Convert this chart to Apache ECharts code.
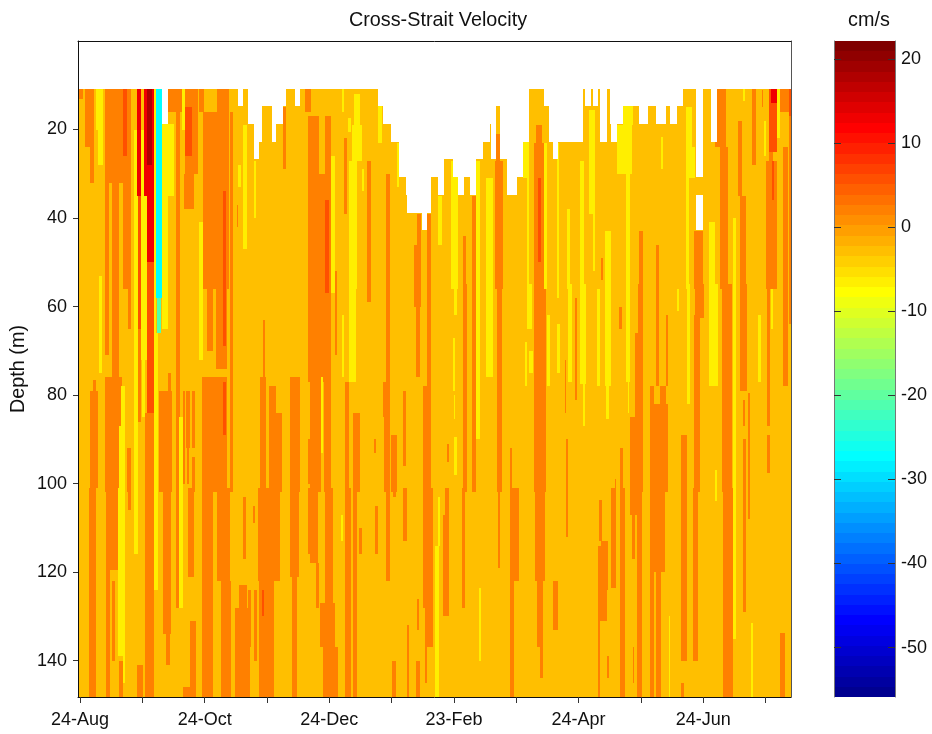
<!DOCTYPE html>
<html>
<head>
<meta charset="utf-8">
<script src="https://cdn.jsdelivr.net/npm/echarts@6/dist/echarts.min.js"></script>
<style>
  html, body { margin: 0; padding: 0; background: #fff; }
  #chart { width: 932px; height: 734px; }
</style>
</head>
<body>
<div id="chart"></div>
<script>
// x axis is days since the start of the record
const dayCount = 349
const maxDepth = 148.2
const tickDays = [1, 31.5, 62, 92.5, 123, 153.5, 184, 214.5, 245, 275.5, 306, 336.5]
const labelDays = [1, 62, 123, 184, 245, 306]
const labelTexts = ['24-Aug', '24-Oct', '24-Dec', '23-Feb', '24-Apr', '24-Jun']
const depthTicks = [20, 40, 60, 80, 100, 120, 140]
const velocityTicks = [-50, -40, -30, -20, -10, 0, 10, 20]
const velocityRange = [-55.87, 22.13]

// jet, bottom to top of the colorbar
const colorbarColors = [
  '#000090', '#0000A0', '#0000B0', '#0000C0', '#0000D0', '#0000E0', '#0000F0', '#0000FF',
  '#0010FF', '#0020FF', '#0030FF', '#0040FF', '#0050FF', '#0060FF', '#0070FF', '#0080FF',
  '#008FFF', '#009FFF', '#00AFFF', '#00BFFF', '#00CFFF', '#00DFFF', '#00EFFF', '#00FFFF',
  '#10FFEF', '#20FFDF', '#30FFCF', '#40FFBF', '#50FFAF', '#60FF9F', '#70FF8F', '#80FF80',
  '#8FFF70', '#9FFF60', '#AFFF50', '#BFFF40', '#CFFF30', '#DFFF20', '#EFFF10', '#FFFF00',
  '#FFEF00', '#FFDF00', '#FFCF00', '#FFBF00', '#FFAF00', '#FF9F00', '#FF8F00', '#FF8000',
  '#FF7000', '#FF6000', '#FF5000', '#FF4000', '#FF3000', '#FF2000', '#FF1000', '#FF0000',
  '#F00000', '#E00000', '#D00000', '#C00000', '#B00000', '#A00000', '#900000', '#800000'
]

// contour levels, cm/s. Each list below holds [day0, day1, depth0, depth1] patches of one level
const backgroundVelocity = -2.5
const levelVelocities = { cyan: -27.5, teal: -21, yellow: -6.5, orange: 2.5, redOrange: 6, red: 12.5, darkRed: 18 }

const orangePatches = [
  [0.7, 2.6, 10.75, 13], [3.5, 8, 10.75, 24], [6, 8, 24, 32], [7.5, 9, 76.5, 79], [6, 10, 79, 101], [5.5, 8.8, 101, 148.2],
  [13, 26, 10.75, 32], [13, 15, 32, 71], [16.5, 20, 32, 76], [22, 26, 32, 56], [24.6, 26, 55, 65], [13, 21.4, 76, 102],
  [13.7, 19.7, 101, 119.4], [13.7, 15.7, 119, 148.2], [16.5, 18, 122, 140], [20, 22, 140, 148.2], [24, 26, 92, 102],
  [24.6, 25.8, 101, 106], [29, 31.6, 141, 148.2], [29.5, 31, 65, 86], [33, 37, 84, 148.2],
  [44, 50.7, 10.75, 16], [48, 50, 10.75, 128], [52.3, 58.9, 10.75, 30], [52, 57, 30, 38],
  [39.8, 45.8, 79, 102], [41.4, 45.4, 101, 134], [43, 45, 134, 141], [44, 45.5, 75, 79],
  [51.2, 52.4, 79, 100], [53, 55, 79, 92], [53.2, 54.5, 90, 100], [55.6, 57.3, 79, 92], [55.6, 57.3, 94, 102],
  [54, 57, 101, 121], [54.8, 58, 131, 148.2], [51.5, 56.8, 146, 148.2],
  [59, 61.7, 10.75, 16], [68, 74, 10.75, 16], [61, 74, 16, 56], [74.4, 76, 16, 102], [63, 66, 55, 70], [67.5, 72.7, 55, 74],
  [60.5, 72.7, 76, 102], [60.5, 66, 101, 148.2], [68, 74.4, 101, 122], [70, 75, 122, 148.2],
  [77, 84, 128, 148.2], [79, 82.5, 123, 131], [80.6, 82.2, 103, 117], [85.5, 86.8, 105, 109], [83.4, 84.5, 124, 137], [86, 87.5, 124, 140],
  [78, 78.5, 37, 42], [89, 92, 76, 102], [93.5, 97, 78, 102], [97, 99.7, 84, 102], [88.3, 99, 101, 122], [88.5, 96, 122, 148.2],
  [90.4, 91.5, 63, 76], [103.8, 108.6, 76, 102], [103.8, 108, 101, 121], [104.6, 107, 121, 148.2],
  [112.4, 113.9, 90, 100], [112.4, 113.9, 101, 116], [100.5, 102, 15, 29], [111, 114, 10.75, 16],
  [112.4, 118, 17, 30], [121, 124, 17, 30], [112.4, 124, 30, 77], [113.5, 119, 76, 102], [120.4, 124, 76, 102],
  [113.5, 117.6, 101, 118], [116.5, 118, 118, 128], [121, 124.6, 101, 127], [118.5, 126, 127, 137], [120, 127.5, 137, 148.2],
  [125.8, 127, 52, 71], [130, 131.5, 22, 39], [141.6, 143.2, 27, 59], [151, 152.7, 30, 77], [149.5, 152.7, 77, 85], [150, 152.7, 85, 102], [150.7, 152.7, 101, 122],
  [164.4, 167.7, 46, 60], [165.4, 167.4, 60, 76], [165.8, 168, 39, 46],
  [170.6, 172.6, 39, 56], [170.6, 173, 55, 78], [169, 173, 78, 102], [168.7, 174, 101, 128], [170, 173.6, 127, 137], [169.8, 171, 137, 145],
  [188.6, 190, 44, 56], [188.3, 190.5, 55, 102], [187.8, 189.5, 101, 128], [192.7, 195, 35, 102],
  [204.5, 206.5, 21, 27], [204, 208, 27, 56], [205, 207.5, 55, 102], [205.4, 206.5, 101, 119],
  [211.4, 212.4, 92, 102], [211.4, 216, 101, 122], [211.4, 213.4, 122, 148.2],
  [224, 227, 19, 23], [223, 228.5, 23, 56], [223, 229, 55, 102], [223.6, 228.5, 101, 122], [224.5, 227.7, 122, 137], [226, 227.7, 137, 144],
  [159.2, 160.4, 79, 96], [144.8, 145.8, 90, 93], [130.7, 132.8, 77, 102], [134.7, 138, 84, 102], [130.7, 133.5, 101, 148.2], [134.4, 136.4, 101, 148.2],
  [153, 156, 89, 102], [154, 155.6, 101, 103], [153.5, 155.6, 140, 148.2],
  [145.3, 147, 105, 116], [137.7, 138.8, 110, 116], [159.2, 160.8, 101, 113], [160.8, 162, 132, 148.2], [165.8, 167, 126, 133], [165.5, 167.4, 140, 148.2],
  [178.5, 181.7, 107, 130], [179.6, 181.7, 101, 107], [180.4, 181.4, 91, 95], [232.6, 235, 122, 133],
  [243.2, 244.4, 58, 81], [238.3, 239, 72, 84], [238.8, 240, 90, 112], [233, 234.6, 122, 133],
  [256, 257, 49, 54], [265, 266.2, 60, 65],
  [274.7, 276.6, 43, 56], [274, 276.6, 55, 66], [272.6, 276.6, 66, 85], [270, 276.6, 85, 102], [270, 276.3, 101, 107], [273.4, 276.3, 107, 148.2],
  [271, 272.6, 107, 117], [271.5, 272, 137, 145],
  [283, 284.5, 46, 78], [280, 282, 78, 82], [285, 288, 78, 82], [279.9, 289, 82, 102], [279.9, 287.3, 101, 120], [280, 281.8, 120, 148.2], [283, 285.6, 120, 148.2],
  [287.8, 289, 62, 78],
  [301.5, 305.8, 43, 56], [302, 306.3, 55, 62.6], [301.5, 304.3, 62, 102], [301, 303.6, 101, 140],
  [295.4, 298, 89, 140], [295.4, 296.4, 145, 148.2],
  [312, 317.4, 10.75, 24], [314.2, 318.3, 24, 56], [315, 320, 55, 102], [315.5, 320.4, 101, 148.2],
  [323, 325, 18, 35], [324, 327, 35, 56], [324, 327.3, 55, 79], [325.6, 326.4, 81, 87], [325.6, 327.2, 90, 129], [328, 329, 79.5, 108],
  [329.7, 332, 10.75, 28], [334.7, 335.5, 11, 15],
  [337, 342, 27, 56], [338, 340, 18, 27], [337.4, 338.7, 55, 87], [337.4, 338.5, 89, 97.5],
  [343.5, 348, 10.75, 16], [345, 347.6, 24, 78], [348, 349, 17, 64], [343.6, 346, 133.7, 148.2],
  [255, 256.3, 103.7, 113], [256, 259.5, 113, 124], [254.7, 258.8, 114, 131], [254.3, 255.5, 131, 148.2], [259, 259.8, 139, 144],
  [261, 263.3, 101, 123.6], [265.3, 267.7, 101, 148.2], [263, 263.5, 99, 102], [265.3, 266.7, 92, 102]
]

const yellowPatches = [
  [9, 12, 10.75, 20], [10, 12, 20, 28], [10.4, 11.6, 53, 75], [21, 23, 78, 102], [20, 21, 87, 102], [19.5, 23, 101, 139], [22, 23, 139, 145],
  [27.4, 29.5, 20, 116], [31, 33.6, 20, 72], [31.5, 33, 72, 85], [37, 38, 10.75, 66], [37, 39.3, 66, 124],
  [41, 44, 18.75, 65], [44, 47, 18.75, 35], [49.6, 51.2, 85, 128], [51, 52.3, 10.75, 20], [59.4, 61, 41, 72],
  [78.5, 80, 28, 33], [81, 82.5, 19, 47], [86, 87, 27, 40], [119, 120, 76, 93],
  [129, 130, 10.75, 16], [135, 138, 12, 19], [132, 133.5, 17.5, 20.5], [134, 139, 19, 27], [132.8, 136.4, 27, 56], [132.8, 136, 55, 77], [139, 140, 29, 34],
  [124, 126, 26, 57], [129, 130.4, 62, 76], [147, 149, 13, 23], [156, 157, 23, 33],
  [176.4, 178, 35, 46], [182.4, 186, 27, 56], [184, 185.3, 55, 62], [183.4, 184.7, 67, 79], [184, 184.6, 80, 85.5], [184, 185.3, 89.5, 98],
  [195, 197, 27, 90], [199.5, 203, 31, 76], [218, 221, 22.75, 31], [219.6, 221, 31, 56], [219.6, 222, 55, 65], [218.8, 219.6, 68, 78], [221, 222.5, 70, 75],
  [228, 229.7, 23, 56], [229.8, 230.8, 62, 78], [234.6, 235.6, 23, 58], [234.5, 235.7, 64, 75],
  [174.7, 176.8, 114, 148.2], [176.3, 177, 103, 114], [128.5, 129.5, 107, 113], [196.4, 197.4, 123.6, 140],
  [250, 253, 15.5, 39], [252, 253, 39, 52], [245.7, 247.6, 27, 56], [245.7, 248.6, 55, 77.6], [247, 248, 77, 87],
  [239.5, 241, 38, 56], [240, 241.6, 55, 77], [254, 255.4, 56, 78], [258, 261, 43, 78], [258.4, 260, 78, 85.5],
  [266.6, 271.8, 14.75, 19], [263.6, 271, 19, 30], [268, 270, 30, 77], [269, 269.6, 77, 84],
  [289.4, 290, 130, 148.2], [285.6, 286.4, 21.6, 29], [293, 294, 56, 61],
  [297.6, 300.3, 15, 31], [298.5, 302, 24, 31], [297.6, 299.2, 31, 56], [298.2, 299.5, 55, 82],
  [309, 312, 41, 56], [309, 313.4, 55, 78], [311.8, 313, 97, 104],
  [320.4, 322.3, 40, 135], [329.3, 330.5, 131.5, 148.2], [325.6, 326.4, 10.75, 13.5], [336, 337, 18, 26], [333, 334.2, 62, 77],
  [339, 340.3, 56, 65], [341.8, 343.5, 10.75, 22]
]

const redOrangePatches = [
  [22, 24, 10.75, 26], [52.4, 55.6, 15, 26], [71, 72.4, 34, 69], [71, 72.4, 77, 89], [90, 91, 124, 130], [121, 123, 36, 57],
  [225, 226.4, 31, 50], [339.7, 340.7, 27, 36], [338, 342, 10.75, 25], [29.5, 31, 35, 65], [34, 37, 50, 84], [348, 349, 10.75, 17]
]
const redPatches = [[29, 31, 10.75, 35], [32.5, 37, 10.75, 35], [34, 37, 35, 50], [339, 342, 10.75, 14]]
const darkRedPatches = [[34, 36, 10.75, 28]]
const tealPatches = [[38.5, 40.5, 58, 66]]
const cyanPatches = [[38, 41, 10.75, 58]]

// no good data above topDepths[i] until day topEndDays[i]
const topEndDays = [41, 44, 78.5, 81, 83.4, 86, 88.7, 90, 94.8, 97, 100.5, 102, 106, 108.6, 147, 149.4, 153, 157.3, 160.5, 161, 168.2, 171, 172.6, 176.3, 179, 183.7, 186, 189, 192, 195, 198, 201.6, 202.4, 204.6, 206.5, 209.8, 214.7, 218, 221, 228, 230.7, 232.3, 235, 247, 248, 251, 252, 254.6, 255.5, 258.8, 260.3, 261, 263.6, 266.6, 274.7, 278.8, 283, 288, 290, 293, 296, 302.4, 306, 310, 312.6, 349]
const topDepths = [10.75, 18.75, 10.75, 14.75, 10.75, 18.75, 26.75, 22.75, 14.75, 22.75, 18.75, 14.75, 10.75, 14.75, 10.75, 14.75, 18.75, 22.75, 30.75, 34.75, 38.75, 42.75, 38.75, 30.75, 34.75, 26.75, 30.75, 34.75, 30.75, 34.75, 26.75, 22.75, 18.75, 26.75, 14.75, 26.75, 34.75, 30.75, 22.75, 10.75, 14.75, 22.75, 26.75, 22.75, 10.75, 14.75, 10.75, 14.75, 10.75, 22.75, 10.75, 18.75, 22.75, 18.75, 14.75, 18.75, 14.75, 18.75, 14.75, 18.75, 14.75, 10.75, 30.75, 10.75, 22.75, 10.75]

// missing bins below the first good one
const gapPatches = [[302.4, 306, 34.75, 42.75]]

const colorStep = (velocityRange[1] - velocityRange[0]) / colorbarColors.length

function velocityColor(v) {
  let i = Math.floor((v - velocityRange[0]) / colorStep)
  return colorbarColors[Math.max(0, Math.min(colorbarColors.length - 1, i))]
}

function withVelocity(patches, velocity) {
  return patches.map(p => [p[0], p[1], p[2], p[3], velocity])
}

// later levels paint over earlier ones
const fieldCells = [
  [0, dayCount, 0, maxDepth, backgroundVelocity],
  ...withVelocity(orangePatches, levelVelocities.orange),
  ...withVelocity(yellowPatches, levelVelocities.yellow),
  ...withVelocity(redOrangePatches, levelVelocities.redOrange),
  ...withVelocity(redPatches, levelVelocities.red),
  ...withVelocity(darkRedPatches, levelVelocities.darkRed),
  ...withVelocity(tealPatches, levelVelocities.teal),
  ...withVelocity(cyanPatches, levelVelocities.cyan)
]

const missingCells = gapPatches.map(p => [p[0], p[1], p[2], p[3], 0])
topEndDays.forEach((end, i) => {
  missingCells.push([i === 0 ? 0 : topEndDays[i - 1], end, 0, topDepths[i], 0])
})

const colorbarCells = colorbarColors.map((c, i) => [
  0, 1, velocityRange[0] + i * colorStep, velocityRange[0] + (i + 1) * colorStep, velocityRange[0] + (i + 0.5) * colorStep
])

function rectRenderer(fillFor) {
  return function (params, api) {
    const a = api.coord([api.value(0), api.value(2)])
    const b = api.coord([api.value(1), api.value(3)])
    const x = Math.round(Math.min(a[0], b[0]))
    const y = Math.round(Math.min(a[1], b[1]))
    return {
      type: 'rect',
      shape: {
        x: x,
        y: y,
        width: Math.round(Math.max(a[0], b[0])) - x,
        height: Math.round(Math.max(a[1], b[1])) - y
      },
      style: { fill: fillFor(api.value(4)) }
    }
  }
}

const labelStyle = { color: '#111', fontFamily: 'Liberation Sans, Arial', fontSize: 18 }
const titleStyle = { color: '#111', fontFamily: 'Liberation Sans, Arial', fontSize: 19.8, fontWeight: 'normal' }
const tickLine = { color: '#333', width: 1 }

let myChart = echarts.init(document.getElementById('chart'), null, { renderer: 'canvas' })

let option = {
  animation: false,
  backgroundColor: '#fff',
  title: [
    { text: 'Cross-Strait Velocity', left: 433, top: 6, textAlign: 'center', textStyle: titleStyle },
    { text: 'cm/s', left: 864, top: 6, textAlign: 'center', textStyle: titleStyle }
  ],
  grid: [
    { left: 78, top: 41, width: 713, height: 656, outerBoundsMode: 'none' },
    { left: 834, top: 41, width: 61, height: 656, outerBoundsMode: 'none' }
  ],
  xAxis: [
    {
      type: 'value', gridIndex: 0, min: 0, max: dayCount, position: 'bottom', z: 10,
      splitLine: { show: false },
      axisLine: { onZero: false, lineStyle: { color: '#111' } },
      axisTick: { length: 6, lineStyle: tickLine, customValues: tickDays },
      axisLabel: {
        ...labelStyle, margin: 14,
        customValues: labelDays,
        formatter: v => labelTexts[labelDays.indexOf(v)]
      }
    },
    {
      type: 'value', gridIndex: 0, min: 0, max: dayCount, position: 'top', z: 10,
      splitLine: { show: false }, axisTick: { show: false }, axisLabel: { show: false },
      axisLine: { onZero: false, lineStyle: { color: '#111' } }
    },
    { type: 'value', gridIndex: 1, min: 0, max: 1, show: false }
  ],
  yAxis: [
    {
      type: 'value', gridIndex: 0, min: 0, max: maxDepth, inverse: true, position: 'left', z: 10,
      name: 'Depth (m)', nameLocation: 'middle', nameGap: 49, nameMoveOverlap: false, nameTextStyle: titleStyle,
      splitLine: { show: false },
      axisLine: { onZero: false, lineStyle: { color: '#111' } },
      axisTick: { length: 5, lineStyle: tickLine, customValues: depthTicks },
      axisLabel: { ...labelStyle, margin: 11, customValues: depthTicks }
    },
    {
      type: 'value', gridIndex: 1, min: velocityRange[0], max: velocityRange[1], position: 'right', z: 10,
      splitLine: { show: false },
      axisLine: { onZero: false, lineStyle: { color: '#777' } },
      axisTick: { inside: true, length: 7, lineStyle: tickLine, customValues: velocityTicks },
      axisLabel: { ...labelStyle, margin: 6, customValues: velocityTicks }
    },
    {
      type: 'value', gridIndex: 1, min: velocityRange[0], max: velocityRange[1], position: 'left', z: 10,
      splitLine: { show: false },
      axisLine: { onZero: false, lineStyle: { color: '#777' } },
      axisTick: { inside: true, length: 7, lineStyle: tickLine, customValues: velocityTicks },
      axisLabel: { show: false }
    },
    {
      type: 'value', gridIndex: 0, min: 0, max: maxDepth, inverse: true, position: 'right', z: 10,
      splitLine: { show: false }, axisTick: { show: false }, axisLabel: { show: false },
      axisLine: { onZero: false, lineStyle: { color: '#555' } }
    }
  ],
  series: [
    {
      type: 'custom', name: 'Cross-Strait Velocity', xAxisIndex: 0, yAxisIndex: 0,
      clip: true, silent: true,
      renderItem: rectRenderer(velocityColor),
      encode: { x: [0, 1], y: [2, 3] },
      data: fieldCells
    },
    {
      type: 'custom', name: 'missing', xAxisIndex: 0, yAxisIndex: 0,
      clip: true, silent: true, z: 3,
      renderItem: rectRenderer(() => '#fff'),
      encode: { x: [0, 1], y: [2, 3] },
      data: missingCells
    },
    {
      type: 'custom', name: 'colorbar', xAxisIndex: 2, yAxisIndex: 1,
      clip: true, silent: true,
      renderItem: rectRenderer(velocityColor),
      encode: { x: [0, 1], y: [2, 3] },
      data: colorbarCells
    }
  ]
}

myChart.setOption(option)
</script>
</body>
</html>
